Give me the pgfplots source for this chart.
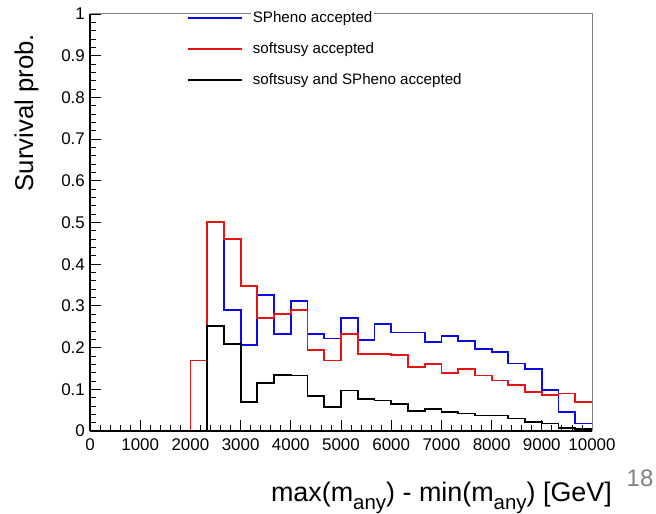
\documentclass[border=0pt]{standalone}
\usepackage{fontspec}
\setmainfont{Liberation Sans}
\usepackage{pgfplots}
\usepackage{pgfplotstable}
\pgfplotsset{compat=1.18}
\definecolor{rblue}{RGB}{10,10,230}
\definecolor{rred}{RGB}{230,20,20}
\definecolor{framegray}{RGB}{128,128,128}
\pgfplotstableread{
x blue red black
0 0 0 0
333.33 0 0 0
666.67 0 0 0
1000 0 0 0
1333.33 0 0 0
1666.67 0 0 0
2000 0 0.169 0
2333.33 0.502 0.502 0.252
2666.67 0.290 0.460 0.208
3000 0.206 0.348 0.069
3333.33 0.327 0.271 0.116
3666.67 0.232 0.281 0.135
4000 0.312 0.290 0.133
4333.33 0.232 0.195 0.084
4666.67 0.222 0.169 0.057
5000 0.271 0.233 0.097
5333.33 0.218 0.185 0.077
5666.67 0.256 0.185 0.073
6000 0.236 0.183 0.065
6333.33 0.236 0.154 0.048
6666.67 0.214 0.161 0.053
7000 0.228 0.139 0.046
7333.33 0.216 0.149 0.042
7666.67 0.197 0.133 0.037
8000 0.190 0.121 0.037
8333.33 0.162 0.110 0.030
8666.67 0.149 0.093 0.022
9000 0.098 0.087 0.018
9333.33 0.046 0.090 0.008
9666.67 0.018 0.069 0.004
10000 0.018 0.069 0.004
}\datatable
\begin{document}
\begin{tikzpicture}
\path[use as bounding box] (-90bp,-83bp) rectangle (566bp,431bp);
\begin{axis}[
  scale only axis,
  width=502bp, height=417bp,
  xmin=0, xmax=10000, ymin=0, ymax=1,
  axis x line*=bottom, axis y line*=left,
  axis line style={-, black, line width=1.2bp},
  clip=false,
  tick align=inside,
  xtick={0,1000,...,10000},
  minor x tick num=4,
  ytick={0,0.1,...,1.0},
  minor y tick num=4,
  major tick length=11bp, minor tick length=6bp,
  tick style={black, line width=0.8bp},
  scaled x ticks=false,
  /pgf/number format/assume math mode=true,
  xticklabel style={/pgf/number format/1000 sep={}, font=\fontsize{17}{17}\selectfont, inner sep=0pt, yshift=-7bp},
  yticklabel style={/pgf/number format/fixed, /pgf/number format/precision=1, font=\fontsize{17}{17}\selectfont, inner sep=0pt, xshift=-5bp},
  xlabel={max(m\raisebox{-8bp}{\fontsize{20.5}{20.5}\selectfont any}) - min(m\raisebox{-8bp}{\fontsize{20.5}{20.5}\selectfont any}) [GeV]},
  xlabel style={at={(axis description cs:1.04,-0.170)}, anchor=base east, inner sep=0pt, font=\fontsize{27}{27}\selectfont},
  ylabel={Survival prob.},
  ylabel style={at={(axis description cs:-0.1135,0.952)}, anchor=base east, inner sep=0pt, font=\fontsize{25.8}{25.8}\selectfont},
  legend image code/.code={\draw[#1] (0bp,0bp) -- (54bp,0bp); \path (62bp,0bp);},
  legend cell align=left,
  legend style={draw=none, fill=none, at={(axis description cs:0.191,1.0127)}, anchor=north west,
    font=\fontsize{15.2}{17}\selectfont, row sep=14.5bp, inner sep=1bp, nodes={fill=white}},
]
\draw[framegray, line width=1bp] (axis description cs:0,1) -- (axis description cs:1,1) -- (axis description cs:1,0);
\addplot[const plot, rblue, line width=1.8bp] table[x=x, y=blue]{\datatable};
\addlegendentry{SPheno accepted}
\addplot[const plot, rred, line width=1.8bp] table[x=x, y=red]{\datatable};
\addlegendentry{softsusy accepted}
\addplot[const plot, black, line width=1.8bp] table[x=x, y=black]{\datatable};
\addlegendentry{softsusy and SPheno accepted}
\end{axis}
\node[text=gray, font=\fontsize{24}{24}\selectfont] at (550bp,-47bp) {18};
\end{tikzpicture}
\end{document}
